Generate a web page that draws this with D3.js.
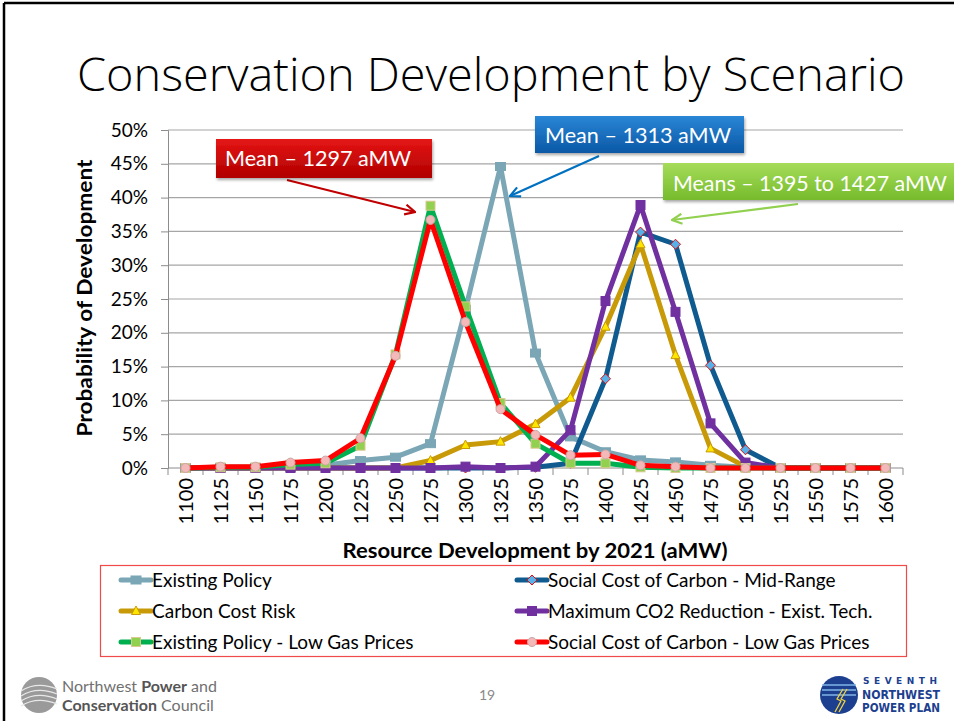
<!DOCTYPE html>
<html>
<head>
<meta charset="utf-8">
<script src="https://cdn.jsdelivr.net/npm/d3@7"></script>
<style>
  body { margin: 0; background: #fff; }
  svg { display: block; }
</style>
</head>
<body>
<div id="slide"></div>
<script>
// categories on the x axis (aMW)
var categories = [1100, 1125, 1150, 1175, 1200, 1225, 1250, 1275, 1300, 1325, 1350,
                  1375, 1400, 1425, 1450, 1475, 1500, 1525, 1550, 1575, 1600];

// probability of development, in %
var existingPolicy  = [0, 0, 0, 0.1, 0.4, 1.1, 1.6, 3.6, 23.5, 44.6, 17.0, 4.6, 2.4, 1.2, 0.9, 0.4, 0.1, 0, 0, 0, 0];
var sccMidRange     = [0, 0, 0, 0, 0, 0, 0, 0, 0, 0, 0.1, 0.7, 13.2, 34.9, 33.1, 15.2, 2.7, 0, 0, 0, 0];
var carbonCostRisk  = [0, 0, 0, 0, 0, 0, 0, 1.1, 3.4, 3.9, 6.5, 10.4, 20.9, 33.1, 16.7, 2.9, 0.2, 0, 0, 0, 0];
var maxCO2          = [0, 0, 0, 0, 0, 0, 0, 0, 0.2, 0, 0.2, 5.6, 24.7, 38.9, 23.1, 6.6, 0.8, 0, 0, 0, 0];
var epLowGas        = [0, 0.1, 0.1, 0.5, 0.7, 3.3, 16.8, 38.8, 23.9, 9.6, 3.6, 0.7, 0.7, 0.1, 0, 0, 0, 0, 0, 0, 0];
var sccLowGas       = [0, 0.2, 0.2, 0.8, 1.1, 4.4, 16.6, 36.7, 21.6, 8.7, 4.9, 1.9, 2.0, 0.4, 0.2, 0, 0, 0, 0, 0, 0];

var yTicks = [0, 5, 10, 15, 20, 25, 30, 35, 40, 45, 50];

var seriesNames = ["Existing Policy", "Social Cost of Carbon - Mid-Range", "Carbon Cost Risk",
                   "Maximum CO2 Reduction - Exist. Tech.", "Existing Policy - Low Gas Prices",
                   "Social Cost of Carbon - Low Gas Prices"];

var callouts = [
  {text: "Mean \u2013 1297 aMW", top: "#e51515", bottom: "#b00000", arrow: "#c00000"},
  {text: "Mean \u2013 1313 aMW", top: "#2a86d6", bottom: "#0a58a6", arrow: "#0070c0"},
  {text: "Means \u2013 1395 to 1427 aMW", top: "#a6dc5a", bottom: "#76bb2c", arrow: "#92d050"}
];

// styles for each series
var styles = [
  {color: "#7aa6b6", marker: "rect",     fill: "#7aa6b6", stroke: "#7aa6b6"},
  {color: "#0f5a8e", marker: "diamond",  fill: "#58b0e8", stroke: "#e01010"},
  {color: "#c89a08", marker: "triangle", fill: "#ffe600", stroke: "#c89a08"},
  {color: "#7030a0", marker: "square",   fill: "#7030a0", stroke: "#7030a0"},
  {color: "#00b050", marker: "square",   fill: "#92d050", stroke: "#d9c98e"},
  {color: "#ff0000", marker: "circle",   fill: "#f4b8b8", stroke: "#c8a8a8"}
];

var allSeries = [existingPolicy, sccMidRange, carbonCostRisk, maxCO2, epLowGas, sccLowGas];

var W = 954, H = 721;
var svg = d3.select("#slide").append("svg").attr("width", W).attr("height", H);

var defs = svg.append("defs");
var shadow = defs.append("filter").attr("id", "shadow").attr("x", "-10%").attr("y", "-20%")
  .attr("width", "130%").attr("height", "160%");
shadow.append("feDropShadow").attr("dx", 1).attr("dy", 2).attr("stdDeviation", 1.5)
  .attr("flood-color", "#000").attr("flood-opacity", 0.35);

callouts.forEach(function(c, i) {
  var g = defs.append("linearGradient").attr("id", "grad" + i)
    .attr("x1", 0).attr("y1", 0).attr("x2", 0).attr("y2", 1);
  g.append("stop").attr("offset", "0%").attr("stop-color", c.top);
  g.append("stop").attr("offset", "100%").attr("stop-color", c.bottom);
  defs.append("marker").attr("id", "arrow" + i)
    .attr("viewBox", "0 0 12 12").attr("refX", 11).attr("refY", 6)
    .attr("markerWidth", 12).attr("markerHeight", 12).attr("markerUnits", "userSpaceOnUse")
    .attr("orient", "auto")
    .append("path").attr("d", "M1,1 L11,6 L1,11")
    .attr("fill", "none").attr("stroke", c.arrow).attr("stroke-width", 2.2);
});

// slide frame (top and left edges visible)
svg.append("line").attr("x1", 4).attr("y1", 3).attr("x2", W).attr("y2", 3)
  .attr("stroke", "#000").attr("stroke-width", 2.5);
svg.append("line").attr("x1", 4).attr("y1", 3).attr("x2", 4).attr("y2", H)
  .attr("stroke", "#000").attr("stroke-width", 2.5);

// title
svg.append("text").attr("x", 77).attr("y", 91)
  .attr("font-family", "Open Sans").attr("font-weight", 300).attr("font-size", 46)
  .attr("textLength", 828).attr("lengthAdjust", "spacingAndGlyphs")
  .attr("fill", "#000").text("Conservation Development by Scenario");

// scales
var x = d3.scalePoint().domain(categories).range([168, 903]).padding(0.5);
var y = d3.scaleLinear().domain([0, 50]).range([468, 130]);

var font = "Lato";

// gridlines
svg.append("g").selectAll("line").data(yTicks.slice(1)).enter().append("line")
  .attr("x1", 168).attr("x2", 903)
  .attr("y1", function(d) { return y(d); }).attr("y2", function(d) { return y(d); })
  .attr("stroke", "#a6a6a6").attr("stroke-width", 1.2);

// y axis
var yAxis = svg.append("g").attr("transform", "translate(168,0)")
  .call(d3.axisLeft(y).tickValues(yTicks).tickSize(7).tickPadding(13)
    .tickFormat(function(d) { return d + "%"; }));
yAxis.selectAll("text").attr("font-family", font).attr("font-size", 19).attr("fill", "#000");
yAxis.selectAll("line, path").attr("stroke", "#8c8c8c");

// x axis: tick marks between categories
var xAxis = svg.append("g").attr("transform", "translate(0,468)");
xAxis.append("line").attr("x1", 168).attr("x2", 903).attr("stroke", "#8c8c8c");
var step = x.step();
xAxis.selectAll("line.tk").data(d3.range(categories.length + 1)).enter().append("line")
  .attr("class", "tk")
  .attr("x1", function(i) { return 168 + i * step; }).attr("x2", function(i) { return 168 + i * step; })
  .attr("y1", 0).attr("y2", 7).attr("stroke", "#8c8c8c");
xAxis.selectAll("text").data(categories).enter().append("text")
  .attr("transform", function(d) { return "translate(" + (x(d) + 7) + ",10) rotate(-90)"; })
  .attr("text-anchor", "end").attr("font-family", font).attr("font-size", 20)
  .text(function(d) { return d; });

// axis titles
svg.append("text").attr("transform", "translate(92,298) rotate(-90)")
  .attr("text-anchor", "middle").attr("font-family", font).attr("font-weight", "bold")
  .attr("font-size", 20).attr("textLength", 277).attr("lengthAdjust", "spacingAndGlyphs")
  .text("Probability of Development");
svg.append("text").attr("x", 535).attr("y", 558).attr("text-anchor", "middle")
  .attr("font-family", font).attr("font-weight", "bold").attr("font-size", 21)
  .attr("textLength", 385).attr("lengthAdjust", "spacingAndGlyphs")
  .text("Resource Development by 2021 (aMW)");

// marker drawing
function drawMarker(sel, st) {
  if (st.marker == "circle") {
    sel.append("circle").attr("r", 4.5);
  } else if (st.marker == "diamond") {
    sel.append("path").attr("d", "M0,-5 L5,0 L0,5 L-5,0Z");
  } else if (st.marker == "triangle") {
    sel.append("path").attr("d", "M0,-5 L4.5,3.5 L-4.5,3.5Z");
  } else if (st.marker == "rect") {
    sel.append("rect").attr("x", -5).attr("y", -4).attr("width", 10).attr("height", 8);
  } else {
    sel.append("rect").attr("x", -4.5).attr("y", -4.5).attr("width", 9).attr("height", 9);
  }
  sel.selectAll("*").attr("fill", st.fill).attr("stroke", st.stroke).attr("stroke-width", 1);
}

var line = d3.line()
  .x(function(d, i) { return x(categories[i]); })
  .y(function(d) { return y(d); });

allSeries.forEach(function(vals, s) {
  var st = styles[s];
  var g = svg.append("g");
  g.append("path").datum(vals).attr("d", line)
    .attr("fill", "none").attr("stroke", st.color).attr("stroke-width", 5)
    .attr("stroke-linejoin", "round");
  g.selectAll("g.pt").data(vals).enter().append("g").attr("class", "pt")
    .attr("transform", function(d, i) { return "translate(" + x(categories[i]) + "," + y(d) + ")"; })
    .each(function() { drawMarker(d3.select(this), st); });
});

// legend
svg.append("rect").attr("x", 100.5).attr("y", 565.5).attr("width", 806).attr("height", 91)
  .attr("fill", "none").attr("stroke", "#f04a4a").attr("stroke-width", 1.2);
seriesNames.forEach(function(name, i) {
  var col = i % 2, row = Math.floor(i / 2);
  var lx = col == 0 ? 121 : 517, ly = 580 + row * 31;
  var st = styles[i];
  var g = svg.append("g");
  g.append("line").attr("x1", lx).attr("x2", lx + 30).attr("y1", ly).attr("y2", ly)
    .attr("stroke", st.color).attr("stroke-width", 5).attr("stroke-linecap", "round");
  drawMarker(g.append("g").attr("transform", "translate(" + (lx + 15) + "," + ly + ")"), st);
  g.append("text").attr("x", lx + 31).attr("y", ly + 6.5).attr("font-family", font)
    .attr("font-size", 19).text(name);
});

// callouts
var boxes = [
  {x: 216, y: 139, w: 216, h: 39, tx: 225, ty: 166, tw: 186, ax1: 287, ay1: 180, ax2: 415, ay2: 212},
  {x: 535, y: 116, w: 209, h: 37, tx: 545, ty: 143, tw: 186, ax1: 599, ay1: 156, ax2: 510, ay2: 196},
  {x: 663, y: 163, w: 295, h: 37, tx: 673, ty: 191, tw: 274, ax1: 798, ay1: 204, ax2: 672, ay2: 220}
];
boxes.forEach(function(b, i) {
  var c = callouts[i];
  svg.append("line").attr("x1", b.ax1).attr("y1", b.ay1).attr("x2", b.ax2).attr("y2", b.ay2)
    .attr("stroke", c.arrow).attr("stroke-width", 2.2).attr("marker-end", "url(#arrow" + i + ")");
  svg.append("rect").attr("x", b.x).attr("y", b.y).attr("width", b.w).attr("height", b.h)
    .attr("fill", "url(#grad" + i + ")").attr("filter", "url(#shadow)");
  svg.append("text").attr("x", b.tx).attr("y", b.ty).attr("font-family", font)
    .attr("font-size", 22).attr("textLength", b.tw).attr("lengthAdjust", "spacingAndGlyphs")
    .attr("fill", "#fff").text(c.text);
});

// footer: council logo
var lg = svg.append("g").attr("transform", "translate(39,695)");
lg.append("circle").attr("r", 18).attr("fill", "#9a9a9a");
[-8, -3, 2, 7].forEach(function(o) {
  lg.append("path").attr("d", "M-18," + (o + 4) + " Q-2," + (o - 6) + " 18," + (o + 2))
    .attr("fill", "none").attr("stroke", "#e8e8e8").attr("stroke-width", 1.3);
});
var t1 = svg.append("text").attr("x", 62).attr("y", 692).attr("font-family", "Lato")
  .attr("font-size", 16).attr("fill", "#707070");
t1.append("tspan").text("Northwest ");
t1.append("tspan").attr("font-weight", "bold").attr("fill", "#555").text("Power");
t1.append("tspan").text(" and");
var t2 = svg.append("text").attr("x", 62).attr("y", 711).attr("font-family", "Lato")
  .attr("font-size", 16).attr("fill", "#707070");
t2.append("tspan").attr("font-weight", "bold").attr("fill", "#555").text("Conservation");
t2.append("tspan").text(" Council");

// page number
svg.append("text").attr("x", 487).attr("y", 700).attr("text-anchor", "middle")
  .attr("font-family", "Lato").attr("font-size", 14).attr("fill", "#8a8a8a").text("19");

// footer: seventh plan logo
var rg = svg.append("g").attr("transform", "translate(839,695)");
rg.append("circle").attr("r", 19).attr("fill", "#1d3f8f");
[-10, -5, 0].forEach(function(o) {
  rg.append("line").attr("x1", -17).attr("x2", 17).attr("y1", o).attr("y2", o)
    .attr("stroke", "#7fb6e6").attr("stroke-width", 1.5);
});
rg.append("path").attr("d", "M4,-6 L-2,4 L2,6 L-4,17 M8,-6 L2,4 L6,6 L0,17")
  .attr("fill", "none").attr("stroke", "#f2d23a").attr("stroke-width", 1.3);
svg.append("text").attr("x", 863).attr("y", 684).attr("font-family", "DejaVu Sans")
  .attr("font-weight", "bold").attr("font-size", 9).attr("letter-spacing", 4.5)
  .attr("fill", "#1d3f8f").text("SEVENTH");
svg.append("text").attr("x", 862).attr("y", 699).attr("font-family", "DejaVu Sans")
  .attr("font-weight", "bold").attr("font-size", 12).attr("textLength", 78)
  .attr("lengthAdjust", "spacingAndGlyphs").attr("fill", "#1d3f8f").text("NORTHWEST");
svg.append("text").attr("x", 862).attr("y", 712).attr("font-family", "DejaVu Sans")
  .attr("font-weight", "bold").attr("font-size", 12).attr("textLength", 78)
  .attr("lengthAdjust", "spacingAndGlyphs").attr("fill", "#1d3f8f").text("POWER PLAN");
</script>
</body>
</html>
